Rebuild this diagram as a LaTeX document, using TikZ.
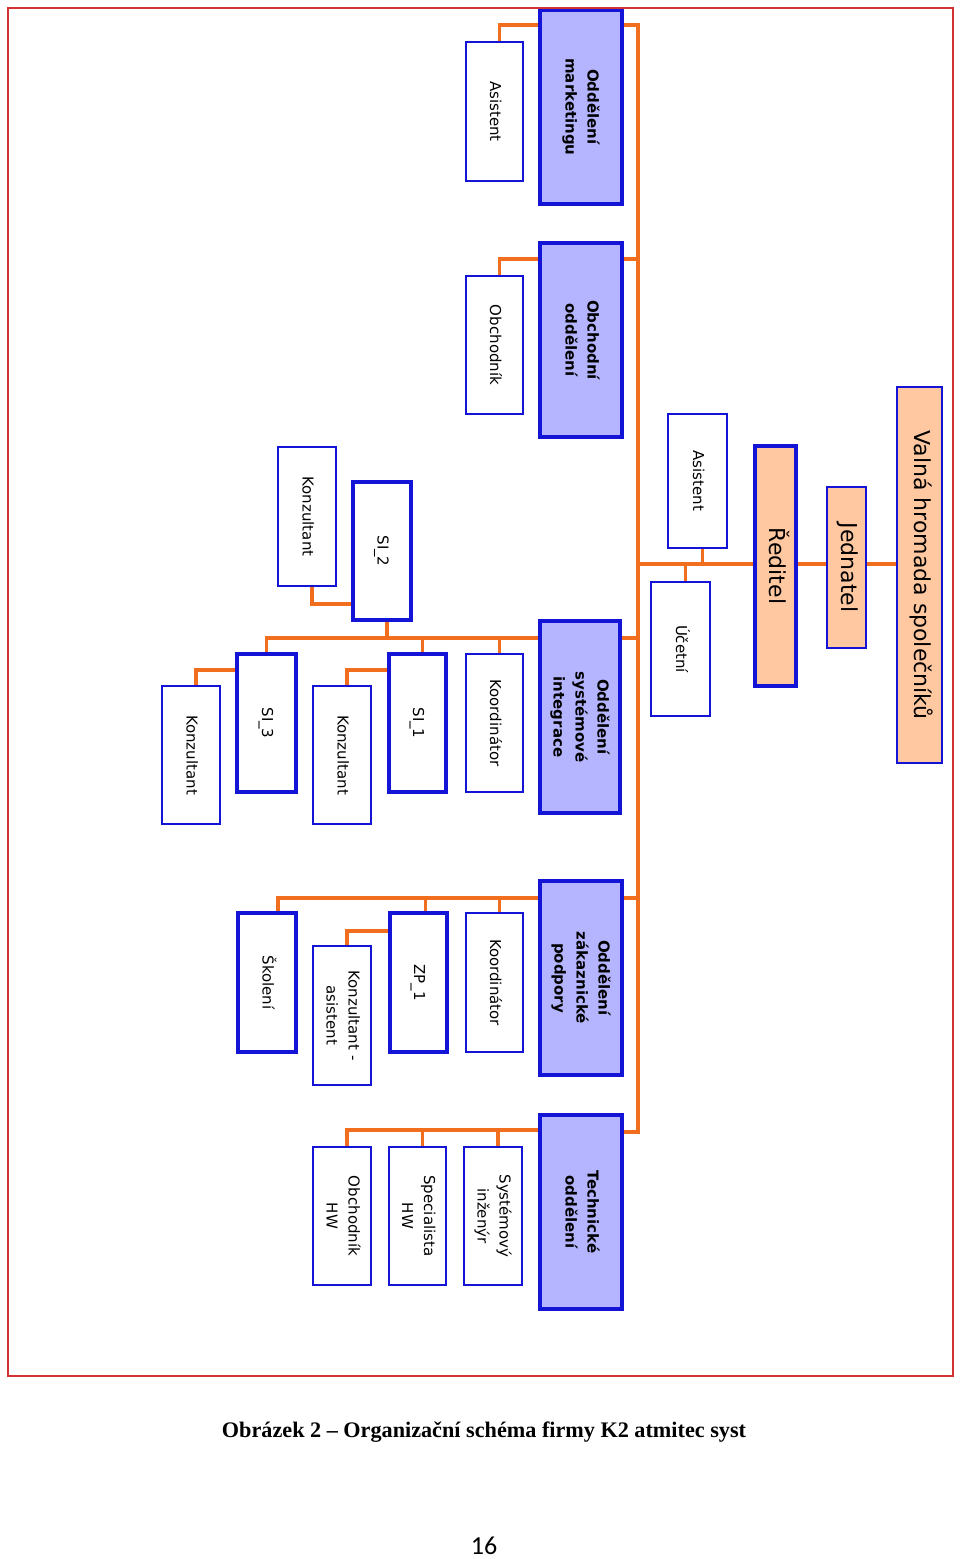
\documentclass[tikz,border=0pt]{standalone}
\usepackage{fontspec}
\usepackage{graphicx}
\usetikzlibrary{backgrounds,calc}
\newfontfamily\dvs{DejaVu Sans}
\newfontfamily\tms{Liberation Serif}
\newfontfamily\calib{Carlito}
\definecolor{deptfill}{RGB}{180,180,255}
\definecolor{peach}{RGB}{255,200,160}
\definecolor{bblue}{RGB}{20,20,215}
\definecolor{conorange}{RGB}{240,110,30}
\definecolor{framered}{RGB}{210,50,50}
\tikzset{
 boxbase/.style={draw=bblue, inner sep=0pt, outer sep=0pt, font=\dvs\fontsize{15}{22}\selectfont},
 dept/.style={boxbase, fill=deptfill, line width=3.5pt, font=\dvs\bfseries\fontsize{15}{22}\selectfont},
 lead/.style={boxbase, fill=white, line width=3.5pt},
 staff/.style={boxbase, fill=white, line width=2.2pt},
 topbox/.style={boxbase, fill=peach, line width=2.5pt, font=\dvs\fontsize{22}{26}\selectfont},
 conn/.style={draw=conorange, line width=3.5pt},
}
\newcommand\bx[7]{\node[#2, minimum width={(#5-#3)*1pt}, minimum height={(#6-#4)*1pt}] (#1) at ({(#3+#5)/2},{(#4+#6)/2}) {\rotatebox{-90}{\begin{tabular}{@{}c@{}}#7\end{tabular}}};}
\begin{document}
\begin{tikzpicture}[x=1pt,y=-1pt]
\useasboundingbox (0,0) rectangle (960,1559);
\bx{mkt}{dept}{540}{10}{622}{204}{Oddělení\\marketingu}
\bx{asm}{staff}{466}{42}{523}{181}{Asistent}
\bx{obo}{dept}{540}{243}{622}{437}{Obchodní\\oddělení}
\bx{obch}{staff}{466}{276}{523}{414}{Obchodník}
\bx{red}{topbox,line width=3.5pt}{755}{446}{796}{686}{Ředitel}
\bx{jed}{topbox}{827}{487}{866}{648}{Jednatel}
\bx{val}{topbox}{897}{387}{942}{763}{Valná hromada společníků}
\bx{asd}{staff}{668}{414}{727}{548}{Asistent}
\bx{uce}{staff}{651}{582}{710}{716}{Účetní}
\bx{osi}{dept}{540}{621}{620}{813}{Oddělení\\systémové\\integrace}
\bx{koo1}{staff}{466}{654}{523}{792}{Koordinátor}
\bx{si1}{lead}{389}{654}{446}{792}{SI\_1}
\bx{kon1}{staff}{313}{686}{371}{824}{Konzultant}
\bx{si3}{lead}{237}{654}{296}{792}{SI\_3}
\bx{kon3}{staff}{162}{686}{220}{824}{Konzultant}
\bx{si2}{lead}{353}{482}{411}{620}{SI\_2}
\bx{kon2}{staff}{278}{447}{336}{586}{Konzultant}
\bx{ozp}{dept}{540}{881}{622}{1075}{Oddělení\\zákaznické\\podpory}
\bx{koo2}{staff}{466}{913}{523}{1052}{Koordinátor}
\bx{zp1}{lead}{390}{913}{447}{1052}{ZP\_1}
\bx{kas}{staff}{313}{946}{371}{1085}{Konzultant -\\asistent}
\bx{sko}{lead}{238}{913}{296}{1052}{Školení}
\bx{tech}{dept}{540}{1115}{622}{1309}{Technické\\oddělení}
\bx{sys}{staff}{464}{1147}{522}{1285}{Systémový\\inženýr}
\bx{spe}{staff}{389}{1147}{446}{1285}{Specialista\\HW}
\bx{ohw}{staff}{313}{1147}{371}{1285}{Obchodník\\HW}
\begin{pgfonlayer}{background}
\coordinate (jt) at (638,25);
\coordinate (jb) at (638,1132);
\coordinate (jo) at (638,259);
\coordinate (jd) at (638,564);
\coordinate (js) at (638,638);
\coordinate (jz) at (638,898);
\coordinate (h1) at (0,670);
\coordinate (h2) at (0,604);
\coordinate (h3) at (0,931);
\coordinate (h4) at (0,1130);
\draw[conn] (mkt.east |- jt) -- (jt) -- (jb) -- (tech.east |- jb);
\draw[conn] (mkt.west |- jt) -| ([xshift=5pt]asm.north);
\draw[conn] (jo) -- (jo -| obo.east);
\draw[conn] (jo -| obo.west) -| ([xshift=5pt]obch.north);
\draw[conn] (jd) -- (jd -| val.west);
\draw[conn] ([xshift=5pt]asd.south) -- ([xshift=5pt]asd.south |- jd);
\draw[conn] ([xshift=5pt]uce.north) -- ([xshift=5pt]uce.north |- jd);
\draw[conn] (js) -- (js -| osi.east);
\draw[conn] (js -| osi.west) -| (si3.north);
\draw[conn] ([xshift=5pt]koo1.north) -- ([xshift=5pt]koo1.north |- js);
\draw[conn] ([xshift=5pt]si1.north) -- ([xshift=5pt]si1.north |- js);
\draw[conn] ([xshift=5pt]si2.south) -- ([xshift=5pt]si2.south |- js);
\draw[conn] (si1.west |- h1) -| ([xshift=5pt]kon1.north);
\draw[conn] (si3.west |- h1) -| ([xshift=5pt]kon3.north);
\draw[conn] (si2.west |- h2) -| ([xshift=5pt]kon2.south);
\draw[conn] (jz) -- (jz -| ozp.east);
\draw[conn] (jz -| ozp.west) -| ([xshift=11pt]sko.north);
\draw[conn] ([xshift=5pt]koo2.north) -- ([xshift=5pt]koo2.north |- jz);
\draw[conn] ([xshift=7pt]zp1.north) -- ([xshift=7pt]zp1.north |- jz);
\draw[conn] (zp1.west |- h3) -| ([xshift=5pt]kas.north);
\draw[conn] (tech.west |- h4) -| ([xshift=5pt]ohw.north);
\draw[conn] ([xshift=5pt]sys.north) -- ([xshift=5pt]sys.north |- h4);
\draw[conn] ([xshift=5pt]spe.north) -- ([xshift=5pt]spe.north |- h4);
\end{pgfonlayer}
\draw[framered, line width=1.2pt] (8,8) rectangle (953,1376);
\node[font=\tms\bfseries\fontsize{22.2}{26}\selectfont] (cap) at (484,1432) {Obrázek 2 – Organizační schéma firmy K2 atmitec syst};
\node[font=\calib\fontsize{26}{30}\selectfont] (pg) at (484,1546) {16};
\end{tikzpicture}
\end{document}
